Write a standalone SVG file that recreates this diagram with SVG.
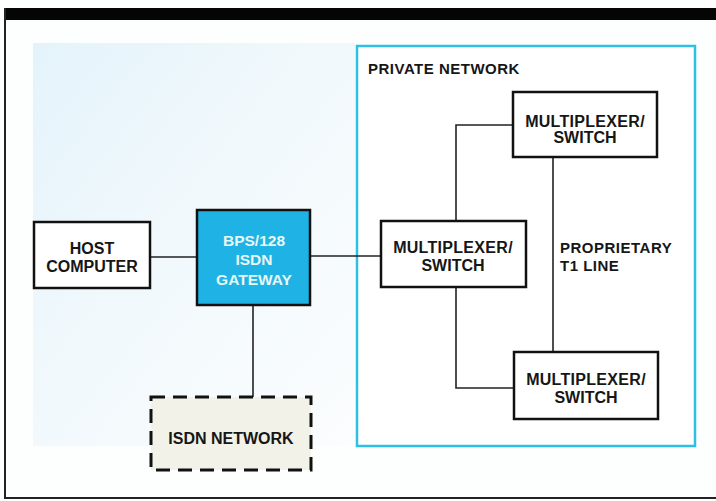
<svg xmlns="http://www.w3.org/2000/svg" width="716" height="501" viewBox="0 0 716 501">
<defs>
<style>
.box{fill:#ffffff;stroke:#111;stroke-width:2.5}
.t{font-family:"Liberation Sans",Arial,sans-serif;font-weight:bold;font-size:16px;fill:#161616;text-anchor:middle}
.lbl{font-family:"Liberation Sans",Arial,sans-serif;font-weight:bold;font-size:15px;fill:#161616;letter-spacing:0.5px}
.wire{fill:none;stroke:#222;stroke-width:1.6}
</style>
<linearGradient id="bg" x1="0" y1="0" x2="1" y2="1">
<stop offset="0" stop-color="#e4f3fb"/>
<stop offset="0.5" stop-color="#f2f9fc"/>
<stop offset="1" stop-color="#fbfdfe"/>
</linearGradient>
</defs>
<rect x="0" y="0" width="716" height="501" fill="#fdfefe"/>
<rect x="4" y="8" width="712" height="12" fill="#050505"/>
<line x1="5" y1="8" x2="5" y2="498" stroke="#222" stroke-width="2"/>
<line x1="4" y1="498" x2="716" y2="498" stroke="#222" stroke-width="2"/>
<rect x="33" y="43" width="322" height="403" fill="url(#bg)"/>

<g id="private-network">
<rect x="357" y="46" width="338" height="400" fill="#ffffff" stroke="#2ec0e2" stroke-width="2.5"/>
<text class="lbl" x="368" y="74">PRIVATE NETWORK</text>
</g>

<g id="connectors">
<line class="wire" x1="150" y1="257" x2="197" y2="257"/>
<line class="wire" x1="310" y1="256" x2="381" y2="256"/>
<line class="wire" x1="253" y1="305" x2="253" y2="397"/>
<polyline class="wire" points="513,125 456,125 456,221"/>
<polyline class="wire" points="456,287 456,388 514,388"/>
<line class="wire" x1="553" y1="157" x2="553" y2="352"/>
</g>

<g id="host-computer">
<rect class="box" x="34" y="222" width="116" height="66"/>
<text class="t" x="92" y="254">HOST</text>
<text class="t" x="92" y="272">COMPUTER</text>
</g>

<g id="gateway">
<rect x="197" y="210" width="113" height="95" fill="#1fb3e5" stroke="#111" stroke-width="2.5"/>
<text class="t" x="254" y="246" style="fill:#eaf6f2;font-size:15.5px">BPS/128</text>
<text class="t" x="254" y="265" style="fill:#eaf6f2;font-size:15.5px">ISDN</text>
<text class="t" x="254" y="285" style="fill:#eaf6f2;font-size:15.5px">GATEWAY</text>
</g>

<g id="isdn-network">
<rect x="151" y="397" width="160" height="73" fill="#f3f2e8" stroke="#111" stroke-width="3" stroke-dasharray="14,8"/>
<text class="t" x="231" y="444">ISDN NETWORK</text>
</g>

<g id="mux-top">
<rect class="box" x="513" y="92" width="144" height="65"/>
<text class="t" x="585" y="127" style="letter-spacing:0.3px">MULTIPLEXER/</text>
<text class="t" x="585" y="143">SWITCH</text>
</g>

<g id="mux-middle">
<rect class="box" x="381" y="221" width="145" height="66"/>
<text class="t" x="453" y="253" style="letter-spacing:0.3px">MULTIPLEXER/</text>
<text class="t" x="453" y="271">SWITCH</text>
</g>

<g id="mux-bottom">
<rect class="box" x="514" y="352" width="144" height="67"/>
<text class="t" x="586" y="385" style="letter-spacing:0.3px">MULTIPLEXER/</text>
<text class="t" x="586" y="403">SWITCH</text>
</g>

<g id="t1-label">
<text class="lbl" x="560" y="253">PROPRIETARY</text>
<text class="lbl" x="560" y="271">T1 LINE</text>
</g>
</svg>
